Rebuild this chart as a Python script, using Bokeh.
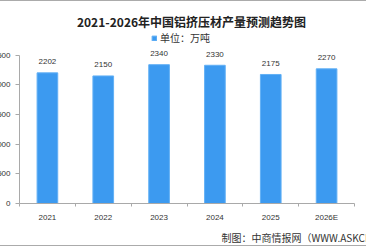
from bokeh.plotting import figure
from bokeh.models import (Range1d, FixedTicker, Label, LabelSet, ColumnDataSource,
                          Legend, LegendItem, Title)
from bokeh.core.properties import value
from bokeh.embed import file_html
from bokeh.resources import INLINE

# ---- data ----
categories = ["2021", "2022", "2023", "2024", "2025", "2026E"]
production = [2202, 2150, 2340, 2330, 2175, 2270]
y_ticks = [0, 500, 1000, 1500, 2000, 2500]
title_text = "2021-2026年中国铝挤压材产量预测趋势图"
legend_text = "单位：万吨"
source_text = "制图：中商情报网（WWW.ASKCI.COM）"

xs = [i + 0.5 for i in range(len(categories))]
src = ColumnDataSource(dict(x=xs, top=production, lab=[str(v) for v in production]))

SHIFT = 11            # figure is shifted left so the y labels are cut by the window edge
FRAME_L = 30          # frame left inside the figure (=> 19 px in the window)
FRAME_R = 354 + SHIFT
W, H = 366 + SHIFT, 246
Y_PER_PX = 1 / 0.06   # 500 units per 30 px
FRAME_BOTTOM = 204.3
Y_TOP = FRAME_BOTTOM * Y_PER_PX   # frame reaches the top of the canvas

p = figure(width=W, height=H, output_backend="svg", toolbar_location=None,
           x_range=Range1d(0, len(categories)), y_range=Range1d(0, Y_TOP),
           min_border_left=FRAME_L, min_border_right=W - FRAME_R, min_border_top=0,
           min_border_bottom=42, background_fill_color="white",
           border_fill_color="white", outline_line_color=None,
           styles={"margin-left": f"-{SHIFT}px",
                   "border-top": "1px solid #ababab",
                   "border-bottom": "1px solid #ababab"})

p.xgrid.visible = False
p.ygrid.visible = False

r = p.vbar(x="x", top="top", width=0.37, source=src,
           fill_color="#3c9af0", line_color="#62b0f5", line_width=1)

axis_col = "#a9a9a9"
txt_col = "#333333"
num_font = "Liberation Sans"
cjk_font = "Noto Sans CJK SC"

# x axis: labels at category centres, small ticks at category boundaries
p.xaxis.ticker = FixedTicker(ticks=xs, minor_ticks=list(range(len(categories) + 1)))
p.xaxis.major_label_overrides = {x: c for x, c in zip(xs, categories)}
p.xaxis.major_tick_out = 0
p.xaxis.major_tick_in = 0
p.xaxis.minor_tick_out = 3
p.xaxis.minor_tick_in = 0
p.xaxis.minor_tick_line_color = axis_col
p.xaxis.axis_line_color = axis_col
p.xaxis.major_label_text_font = num_font
p.xaxis.major_label_text_font_size = "8px"
p.xaxis.major_label_text_color = txt_col
p.xaxis.major_label_standoff = 6

# y axis
p.yaxis.ticker = FixedTicker(ticks=y_ticks)
p.yaxis.bounds = (y_ticks[0], y_ticks[-1])
p.yaxis.major_tick_out = 4
p.yaxis.major_tick_in = 0
p.yaxis.minor_tick_out = 0
p.yaxis.minor_tick_in = 0
p.yaxis.major_tick_line_color = axis_col
p.yaxis.axis_line_color = axis_col
p.yaxis.major_label_text_font = num_font
p.yaxis.major_label_text_font_size = "8px"
p.yaxis.major_label_text_color = txt_col
p.yaxis.major_label_standoff = 5

# value labels
p.add_layout(LabelSet(x="x", y="top", text="lab", source=src, y_offset=11,
                      text_align="center", text_baseline="middle",
                      text_font=value(num_font), text_font_size=value("8px"),
                      text_color=txt_col))

px_per_x = (FRAME_R - FRAME_L) / len(categories)
def dx(px_window):
    return (px_window + SHIFT - FRAME_L) / px_per_x
def dy(py):
    return (FRAME_BOTTOM - py) * Y_PER_PX

# title
p.add_layout(Label(x=dx(191), y=dy(20.5), text=title_text, text_align="center",
                   text_baseline="middle", text_font=cjk_font, text_font_style="bold",
                   text_font_size="12px", text_color="#222222"))

# legend (location = bottom-left corner of the legend box, measured from frame bottom-left)
leg = Legend(items=[LegendItem(label=legend_text, renderers=[r])],
             location=(151 + SHIFT - FRAME_L, FRAME_BOTTOM - 46.5), orientation="horizontal",
             glyph_width=6, glyph_height=6, label_standoff=3, padding=0, margin=0,
             spacing=0, border_line_color=None, background_fill_alpha=0,
             label_text_font=cjk_font, label_text_font_size="10px",
             label_text_color=txt_col, label_height=12)
p.add_layout(leg, "center")

# source note below the x axis
p.add_layout(Title(text=source_text, align="left", offset=221 + SHIFT - FRAME_L,
                   standoff=6, text_font=cjk_font, text_font_style="normal",
                   text_font_size="10px", text_color=txt_col), "below")

open("out.html", "w").write(file_html(p, INLINE))
